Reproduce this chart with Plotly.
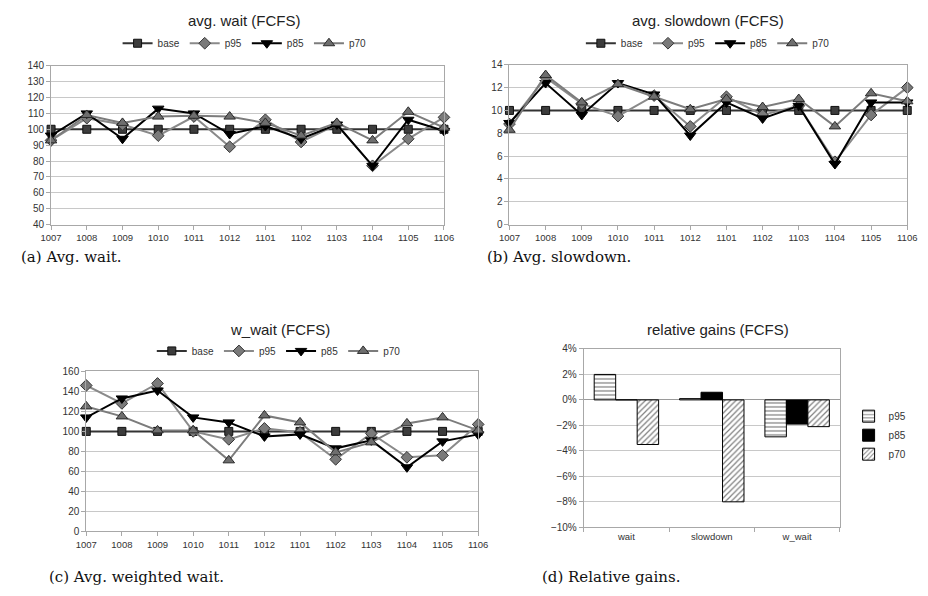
import plotly.graph_objects as go

# ---- data -------------------------------------------------------------
months = ["1007", "1008", "1009", "1010", "1011", "1012",
          "1101", "1102", "1103", "1104", "1105", "1106"]

wait_base = [100, 100, 100, 100, 100, 100, 100, 100, 100, 100, 100, 100]
wait_p95 = [93, 107, 103, 96, 108, 89, 106, 92, 103, 77, 94, 107.5]
wait_p85 = [96, 110, 94, 113, 110, 97, 102, 94, 103, 77, 106, 99]
wait_p70 = [93, 109, 104, 108, 108.5, 108, 104, 96, 104, 93, 111, 101]

slow_base = [10, 10, 10, 10, 10, 10, 10, 10, 10, 10, 10, 10]
slow_p95 = [8.8, 12.9, 10.6, 9.5, 11.3, 8.6, 11.2, 9.6, 10.4, 5.5, 9.6, 12.0]
slow_p85 = [8.9, 12.4, 9.6, 12.4, 11.4, 7.8, 10.7, 9.3, 10.4, 5.3, 10.7, 10.7]
slow_p70 = [8.3, 13.1, 10.7, 12.3, 11.2, 10.1, 11.0, 10.3, 11.0, 8.6, 11.5, 10.8]

ww_base = [100, 100, 100, 100, 100, 100, 100, 100, 100, 100, 100, 100]
ww_p95 = [146, 128, 148, 100, 92, 103, 99, 72, 98, 74, 76, 107]
ww_p85 = [114, 133, 141, 114, 109, 95, 97, 83, 91, 64, 90, 97]
ww_p70 = [125, 115, 101, 101, 71, 116, 109, 79, 89, 108, 114, 101]

metrics = ["wait", "slowdown", "w_wait"]
gain_p95 = [0.020, 0.001, -0.029]
gain_p85 = [0.000, 0.006, -0.019]
gain_p70 = [-0.035, -0.080, -0.021]

# ---- layout helpers -----------------------------------------------------
W, H = 928, 596
FONT = "Liberation Sans, Arial, sans-serif"
CAP_FONT = "DejaVu Serif, serif"
GRID = "#c8c8c8"
AXIS = "#a8a8a8"
TXT = "#333333"


def fx(x):
    return x / W


def fy(y):
    return 1 - y / H


series_style = {
    "base": dict(line=dict(color="#333333", width=2),
                 marker=dict(symbol="square", size=8, color="#3c3c3c",
                             line=dict(color="#111111", width=1))),
    "p95": dict(line=dict(color="#8a8a8a", width=2),
                marker=dict(symbol="diamond", size=9, color="#7a7a7a",
                            line=dict(color="#333333", width=1))),
    "p85": dict(line=dict(color="#000000", width=2),
                marker=dict(symbol="triangle-down", size=10, color="#000000",
                            line=dict(color="#000000", width=1))),
    "p70": dict(line=dict(color="#7c7c7c", width=2),
                marker=dict(symbol="triangle-up", size=10, color="#6e6e6e",
                            line=dict(color="#2a2a2a", width=1))),
}

fig = go.Figure()


def text_label(text, x, y, size, family, color, anchor="center"):
    fig.add_annotation(text=text, x=fx(x), y=fy(y), xref="paper",
                       yref="paper", showarrow=False, xanchor=anchor,
                       yanchor="middle",
                       font=dict(size=size, color=color, family=family))


def line_panel(n, series, box, yrange, dtick, legend_pos, title, title_pos,
               caption, caption_pos):
    xa = "x" if n == 1 else f"x{n}"
    ya = "y" if n == 1 else f"y{n}"
    leg = "legend" if n == 1 else f"legend{n}"
    for name, vals in series:
        st = series_style[name]
        fig.add_trace(go.Scatter(
            x=months, y=vals, name=name, mode="lines+markers",
            line=st["line"], marker=st["marker"], cliponaxis=False,
            xaxis=xa, yaxis=ya, legend=leg))
    x0, y0, x1, y1 = box
    key = "" if n == 1 else str(n)
    fig.update_layout(**{
        f"xaxis{key}": dict(
            domain=[fx(x0), fx(x1)], anchor=ya, type="category",
            range=[0, len(months) - 1], showgrid=False, showline=True,
            linecolor=AXIS, linewidth=1, mirror=True, ticks="outside",
            ticklen=4, tickcolor=AXIS,
            tickfont=dict(size=9.5, color=TXT, family=FONT),
            zeroline=False),
        f"yaxis{key}": dict(
            domain=[fy(y1), fy(y0)], anchor=xa, range=yrange, dtick=dtick,
            showgrid=True, gridcolor=GRID, gridwidth=1, showline=True,
            linecolor=AXIS, linewidth=1, mirror=True, ticks="outside",
            ticklen=4, tickcolor=AXIS, zeroline=False,
            tickfont=dict(size=10, color=TXT, family=FONT)),
        leg: dict(orientation="h", x=fx(legend_pos[0]), y=fy(legend_pos[1]),
                  xanchor="center", yanchor="middle", itemwidth=30,
                  font=dict(size=10, color=TXT, family=FONT),
                  bgcolor="rgba(0,0,0,0)", tracegroupgap=0),
    })
    text_label(title, title_pos[0], title_pos[1], 15, FONT, "#222222")
    text_label(caption, caption_pos[0], caption_pos[1], 15, CAP_FONT,
               "#111111", anchor="left")


line_panel(1, [("base", wait_base), ("p95", wait_p95), ("p85", wait_p85),
               ("p70", wait_p70)],
           (41, 61, 443, 223), [40, 140], 10, (239, 38),
           "avg. wait (FCFS)", (239, 15), "(a) Avg. wait.", (8, 256))

line_panel(2, [("base", slow_base), ("p95", slow_p95), ("p85", slow_p85),
               ("p70", slow_p70)],
           (510, 60, 917, 223), [0, 14], 2, (713, 38),
           "avg. slowdown (FCFS)", (713, 15), "(b) Avg. slowdown.", (485, 256))

line_panel(3, [("base", ww_base), ("p95", ww_p95), ("p85", ww_p85),
               ("p70", ww_p70)],
           (77, 373, 478, 536), [0, 160], 20, (274, 352),
           "w_wait (FCFS)", (275, 330), "(c) Avg. weighted wait.", (37, 583))

# ---- relative gains bar chart ------------------------------------------
bar_styles = {
    "p95": dict(color="white", line=dict(color="black", width=1),
                pattern=dict(shape="-", fgcolor="black", bgcolor="white",
                             size=4, solidity=0.3)),
    "p85": dict(color="black", line=dict(color="black", width=1)),
    "p70": dict(color="white", line=dict(color="black", width=1),
                pattern=dict(shape="/", fgcolor="black", bgcolor="white",
                             size=4, solidity=0.3)),
}
for name, vals in [("p95", gain_p95), ("p85", gain_p85), ("p70", gain_p70)]:
    fig.add_trace(go.Bar(x=metrics, y=vals, name=name,
                         marker=bar_styles[name], xaxis="x4", yaxis="y4",
                         legend="legend4"))

fig.update_layout(
    barmode="group", bargap=0.245, bargroupgap=0,
    xaxis4=dict(domain=[fx(586), fx(848)], anchor="y4", type="category",
                showgrid=False, showline=True, linecolor=AXIS, mirror=True,
                ticks="outside", ticklen=4, tickcolor=AXIS,
                tickson="boundaries",
                tickfont=dict(size=9.5, color=TXT, family=FONT)),
    yaxis4=dict(domain=[fy(532), fy(350)], anchor="x4",
                range=[-0.10, 0.04], dtick=0.02, tickformat=".0%",
                showgrid=True, gridcolor=GRID, showline=True, linecolor=AXIS,
                mirror=True, ticks="outside", ticklen=4, tickcolor=AXIS,
                zeroline=True, zerolinecolor="#9a9a9a", zerolinewidth=1,
                tickfont=dict(size=10, color=TXT, family=FONT)),
    legend4=dict(orientation="v", x=fx(857), y=fy(438), xanchor="left",
                 yanchor="middle", itemwidth=30,
                 font=dict(size=10, color=TXT, family=FONT),
                 bgcolor="rgba(0,0,0,0)", tracegroupgap=0),
)
text_label("relative gains (FCFS)", 723, 330, 15, FONT, "#222222")
text_label("(d) Relative gains.", 541, 583, 15, CAP_FONT, "#111111",
           anchor="left")

fig.update_layout(
    width=W, height=H, margin=dict(l=0, r=0, t=0, b=0),
    paper_bgcolor="white", plot_bgcolor="white", showlegend=True,
    font=dict(family=FONT, color=TXT),
)

fig.write_html("out.html")
